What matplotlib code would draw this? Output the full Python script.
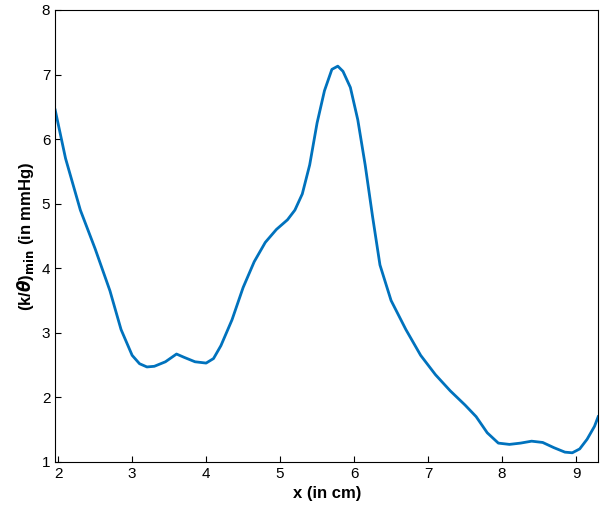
import matplotlib
matplotlib.use("Agg")
from matplotlib import pyplot as plt

plt.rcParams["font.family"] = ["Liberation Sans", "DejaVu Sans"]
plt.rcParams["font.weight"] = "bold"

x_cm = [1.96, 2.1, 2.3, 2.5, 2.7, 2.85, 3.0, 3.1, 3.2, 3.3, 3.45, 3.6, 3.7, 3.85, 4.0, 4.1, 4.2, 4.35,
        4.5, 4.65, 4.8, 4.95, 5.1, 5.2, 5.3, 5.4, 5.5, 5.6, 5.7, 5.78, 5.85, 5.95, 6.05, 6.15, 6.25,
        6.35, 6.5, 6.7, 6.9, 7.1, 7.3, 7.5, 7.65, 7.8, 7.95, 8.1, 8.25, 8.4, 8.55, 8.7, 8.85, 8.95,
        9.05, 9.15, 9.25, 9.3]
k_theta = [6.45, 5.7, 4.9, 4.3, 3.65, 3.05, 2.65, 2.52, 2.47, 2.48, 2.55, 2.67, 2.62, 2.55, 2.53, 2.6, 2.8, 3.2,
           3.7, 4.1, 4.4, 4.6, 4.75, 4.9, 5.15, 5.6, 6.25, 6.75, 7.08, 7.13, 7.05, 6.8, 6.3, 5.6, 4.8,
           4.05, 3.5, 3.05, 2.65, 2.35, 2.1, 1.88, 1.7, 1.45, 1.29, 1.27, 1.29, 1.32, 1.3, 1.22, 1.15, 1.14,
           1.2, 1.35, 1.55, 1.7]

fig = plt.figure(figsize=(6.0, 5.26), dpi=100)
ax = fig.add_axes([0.092, 0.122, 0.905, 0.859])
ax.plot(x_cm, k_theta, color="#0072BD", linewidth=2)
ax.set_xlim(1.96, 9.3)
ax.set_ylim(1, 8)
ax.set_xticks(range(2, 10))
ax.set_yticks(range(1, 9))
ax.tick_params(direction="in", labelsize=11, length=4)
for lab in ax.get_xticklabels() + ax.get_yticklabels():
    lab.set_fontweight("normal")
ax.set_xlabel("x (in cm)", fontsize=12, fontweight="bold")
ax.set_ylabel(r"(k/$\theta$)$_{\rm min}$ (in mmHg)", fontsize=12, fontweight="bold")
fig.savefig("out.png", dpi=100)
